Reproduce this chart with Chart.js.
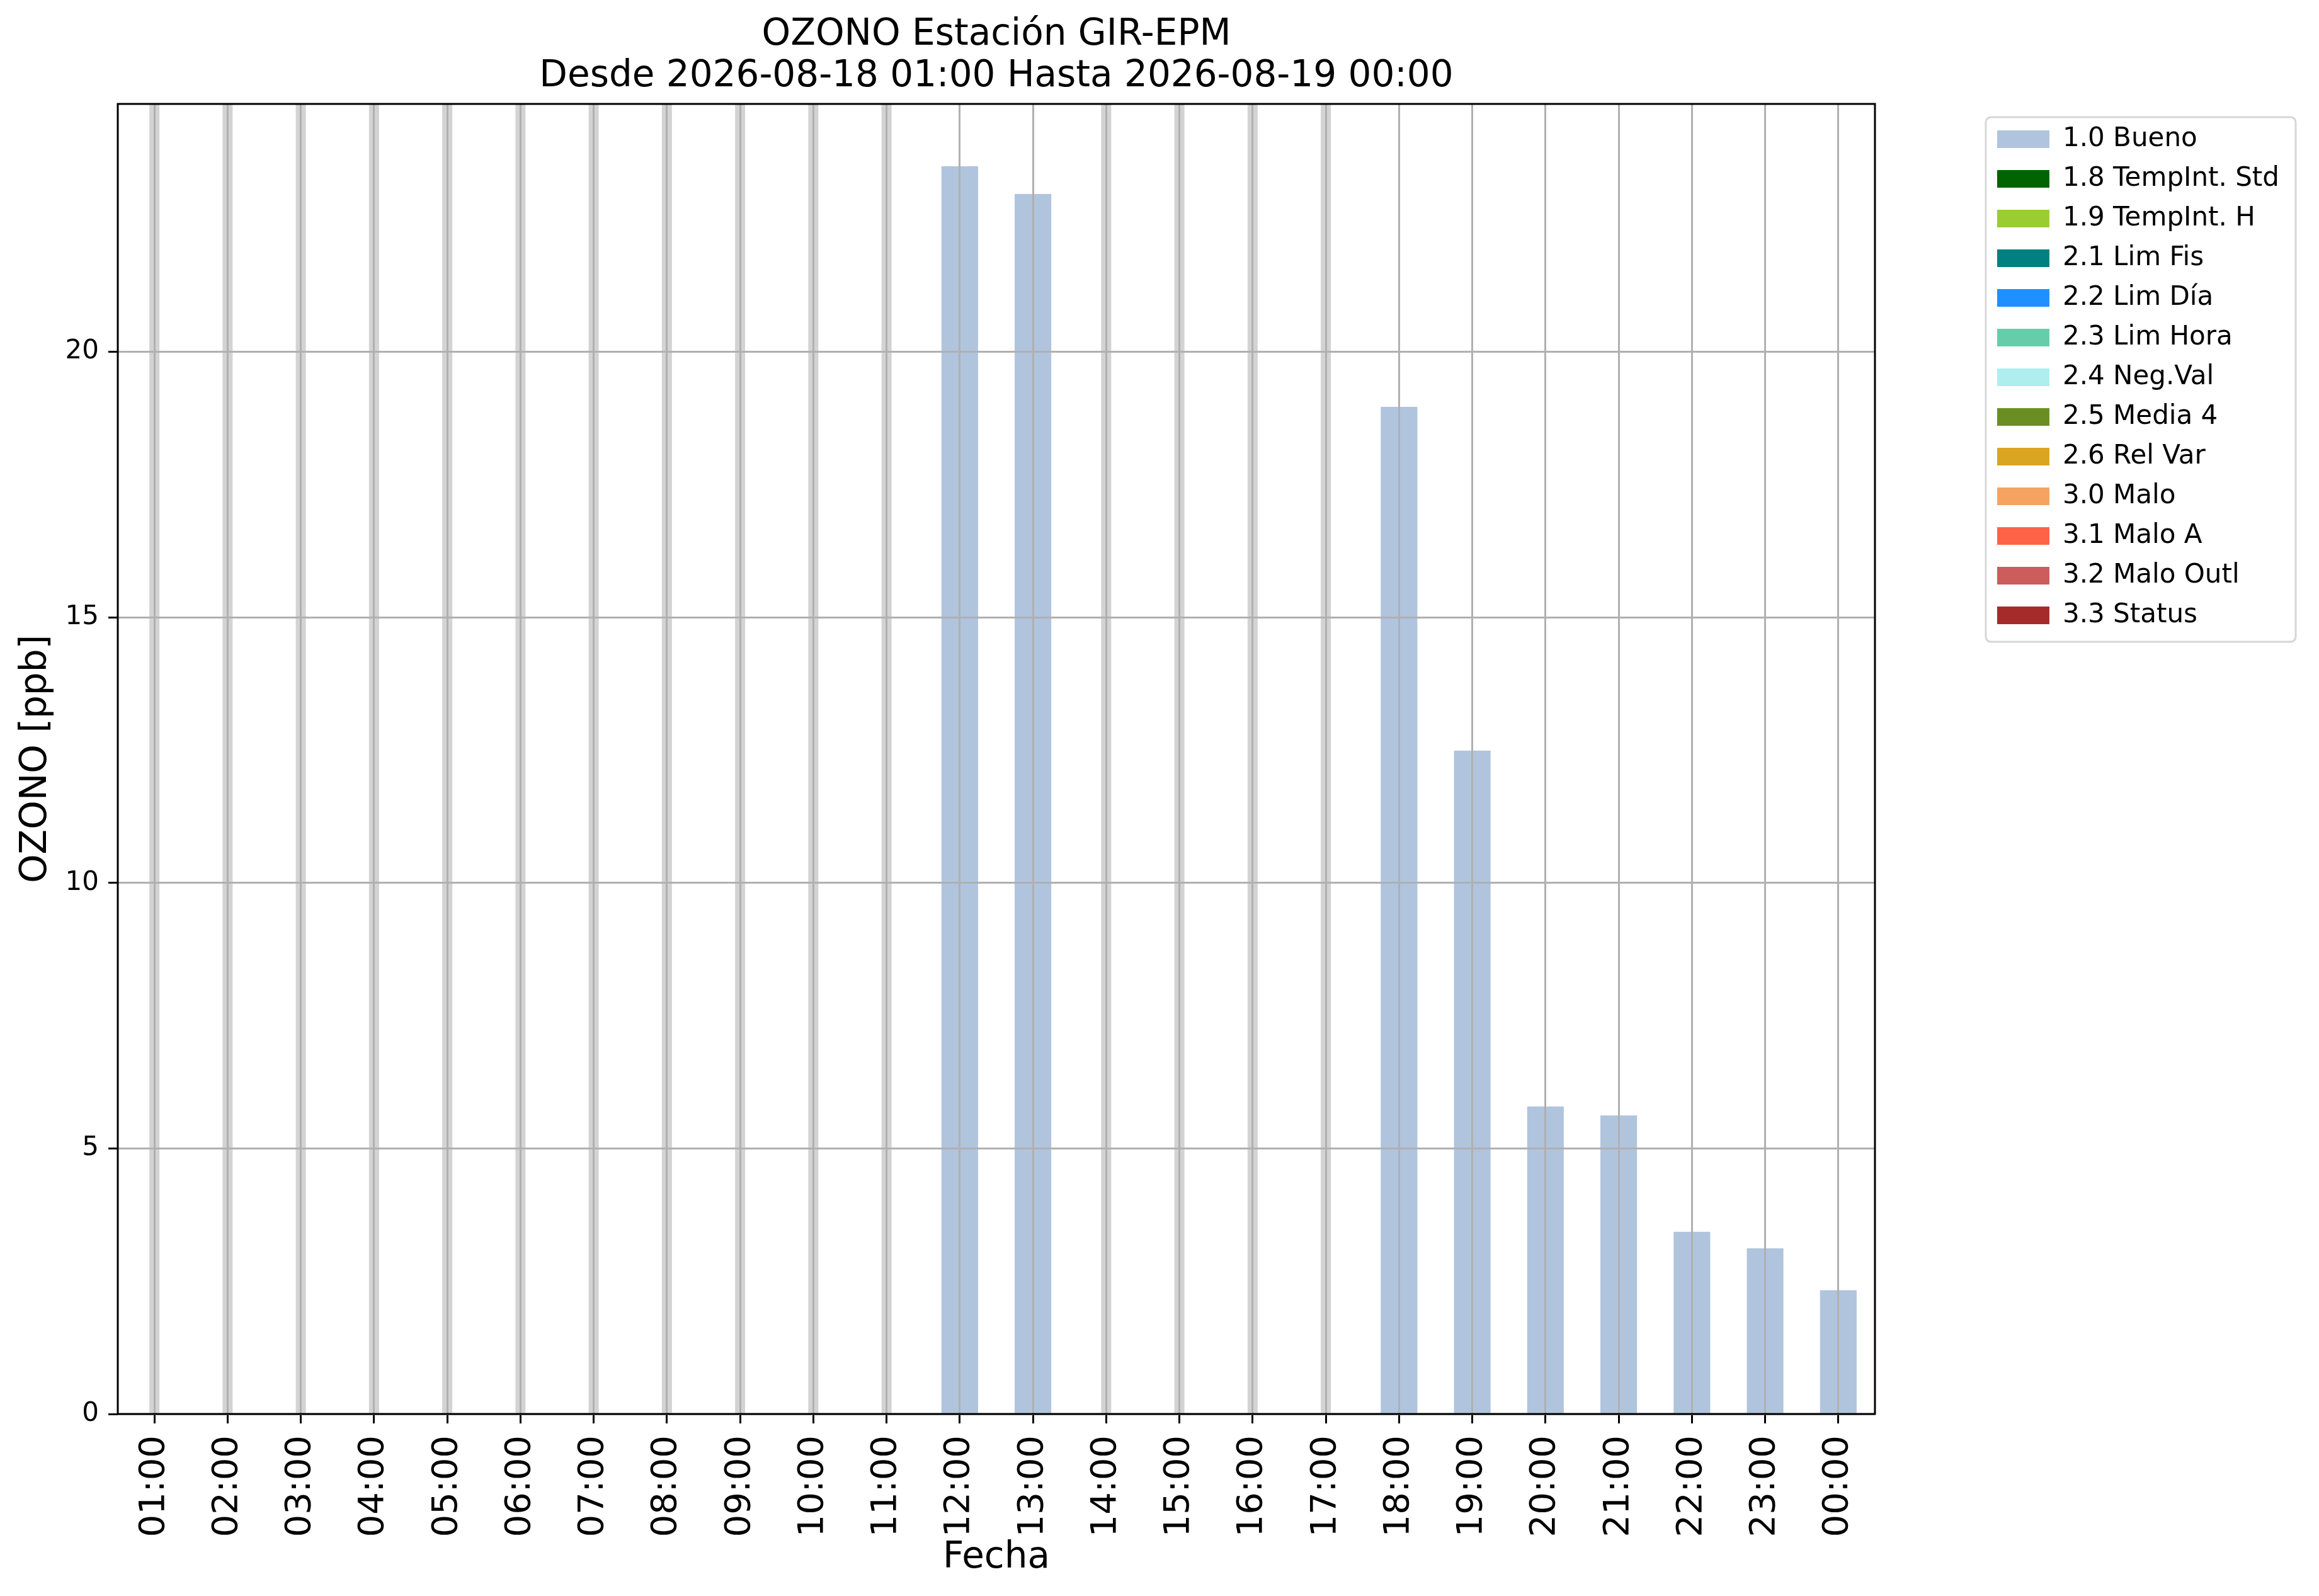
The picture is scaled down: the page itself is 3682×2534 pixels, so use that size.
<!DOCTYPE html>
<html>
<head>
<meta charset="utf-8">
<title>OZONO Estación GIR-EPM</title>
<script src="https://cdn.jsdelivr.net/npm/chart.js@4.4.0/dist/chart.umd.min.js"></script>
<style>
  html, body { margin: 0; padding: 0; background: #fff; }
  #wrap { width: 3682px; height: 2534px; }
</style>
</head>
<body>
<div id="wrap"><canvas id="chart" width="3682" height="2534"></canvas></div>
<script>
// data
const hours = ["01:00","02:00","03:00","04:00","05:00","06:00","07:00","08:00","09:00","10:00","11:00","12:00",
               "13:00","14:00","15:00","16:00","17:00","18:00","19:00","20:00","21:00","22:00","23:00","00:00"];
const bueno = [null, null, null, null, null, null, null, null, null, null, null, 23.49,
               22.97, null, null, null, null, 18.96, 12.49, 5.79, 5.62, 3.43, 3.12, 2.33];
const flagNames  = ["1.0 Bueno","1.8 TempInt. Std","1.9 TempInt. H","2.1 Lim Fis","2.2 Lim Día","2.3 Lim Hora",
                    "2.4 Neg.Val","2.5 Media 4","2.6 Rel Var","3.0 Malo","3.1 Malo A","3.2 Malo Outl","3.3 Status"];
const flagColors = ["#b0c4de","#006400","#9acd32","#008080","#1e90ff","#66cdaa",
                    "#afeeee","#6b8e23","#daa520","#f4a460","#ff6347","#cd5c5c","#a52a2a"];
const titleLines = ["OZONO Estación GIR-EPM", "Desde 2026-08-18 01:00 Hasta 2026-08-19 00:00"];

const $ = (id) => document.getElementById(id);

// axis top like matplotlib's 5% margin
const yTop = Math.max(...bueno.filter(v => v !== null)) * 1.05;

Chart.defaults.font.family = "'DejaVu Sans', sans-serif";
Chart.defaults.color = "#000";

// only "Bueno" has values, the other flags are legend-only
const datasets = flagNames.map((name, i) => ({
  label: name,
  data: i === 0 ? bueno : [],
  backgroundColor: flagColors[i],
  borderWidth: 0,
  barPercentage: 0.5,
  categoryPercentage: 1.0,
  grouped: false,
}));
// hours without data get a thin light gray band
datasets.push({
  label: "missing",
  data: bueno.map(v => v === null ? yTop : null),
  backgroundColor: "#d3d3d3",
  borderWidth: 0,
  barPercentage: 0.138,
  categoryPercentage: 1.0,
  grouped: false,
});
const bandIndex = datasets.length - 1;

// black frame round the axes + the legend box outline
const framePlugin = {
  id: "frame",
  afterDraw(chart) {
    const { ctx, chartArea: a } = chart;
    ctx.save();
    ctx.strokeStyle = "#000";
    ctx.lineWidth = 3;
    ctx.strokeRect(a.left, a.top, a.right - a.left, a.bottom - a.top);

    const hb = chart.legend && chart.legend.legendHitBoxes;
    if (hb && hb.length) {
      const first = hb[0], last = hb[hb.length - 1];
      const right = Math.max(...hb.map(h => h.left + h.width));
      ctx.strokeStyle = "#d6d6d6";
      ctx.lineWidth = 3;
      ctx.beginPath();
      ctx.roundRect(first.left - 18, first.top - 14, right + 26 - (first.left - 18),
                    last.top + last.height + 21 - (first.top - 14), 8);
      ctx.stroke();
    }
    ctx.restore();
  }
};

const gridOpts = { z: 1, color: "#b0b0b0", lineWidth: 3, tickColor: "#000", tickWidth: 3, tickLength: 15 };

const chart = new Chart($("chart").getContext("2d"), {
  type: "bar",
  data: { labels: hours, datasets },
  plugins: [framePlugin],
  options: {
    responsive: false,
    devicePixelRatio: 1,
    animation: false,
    layout: { padding: { left: 0, top: 0, right: 53, bottom: 0 } },
    plugins: {
      tooltip: { enabled: false },
      title: {
        display: true,
        text: titleLines,
        fullSize: false,
        color: "#000",
        font: { size: 58, weight: "normal", lineHeight: 1.138 },
        padding: { top: 23, bottom: 10 },
      },
      legend: {
        position: "right",
        align: "start",
        title: { display: true, text: "", font: { size: 10, lineHeight: 1 }, padding: { top: 169, bottom: 0 } },
        labels: {
          filter: (item) => item.datasetIndex !== bandIndex,
          font: { size: 42 },
          color: "#000",
          boxWidth: 83,
          boxHeight: 28,
          padding: 21,
        },
      },
    },
    scales: {
      x: {
        type: "category",
        offset: true,
        grid: { ...gridOpts, offset: false },
        border: { display: false },
        ticks: { autoSkip: false, maxRotation: 90, minRotation: 90, font: { size: 56 }, color: "#000", padding: 19 },
        title: { display: true, text: "Fecha", font: { size: 58 }, color: "#000", padding: { top: 0, bottom: 25 } },
        afterFit: (s) => { s.height = 289; },
      },
      y: {
        min: 0,
        max: yTop,
        grid: { ...gridOpts },
        border: { display: false },
        ticks: { stepSize: 5, includeBounds: false, font: { size: 42 }, color: "#000", padding: 15 },
        title: { display: true, text: "OZONO [ppb]", font: { size: 58 }, color: "#000", padding: { top: 23, bottom: 0 } },
        afterFit: (s) => { s.width = 187; },
      },
      // empty spacer between the axes and the legend
      yR: {
        type: "linear",
        position: "right",
        grid: { display: false, drawTicks: false },
        border: { display: false },
        ticks: { display: false },
        afterFit: (s) => { s.width = 173; },
      },
    },
  },
});
</script>
</body>
</html>
